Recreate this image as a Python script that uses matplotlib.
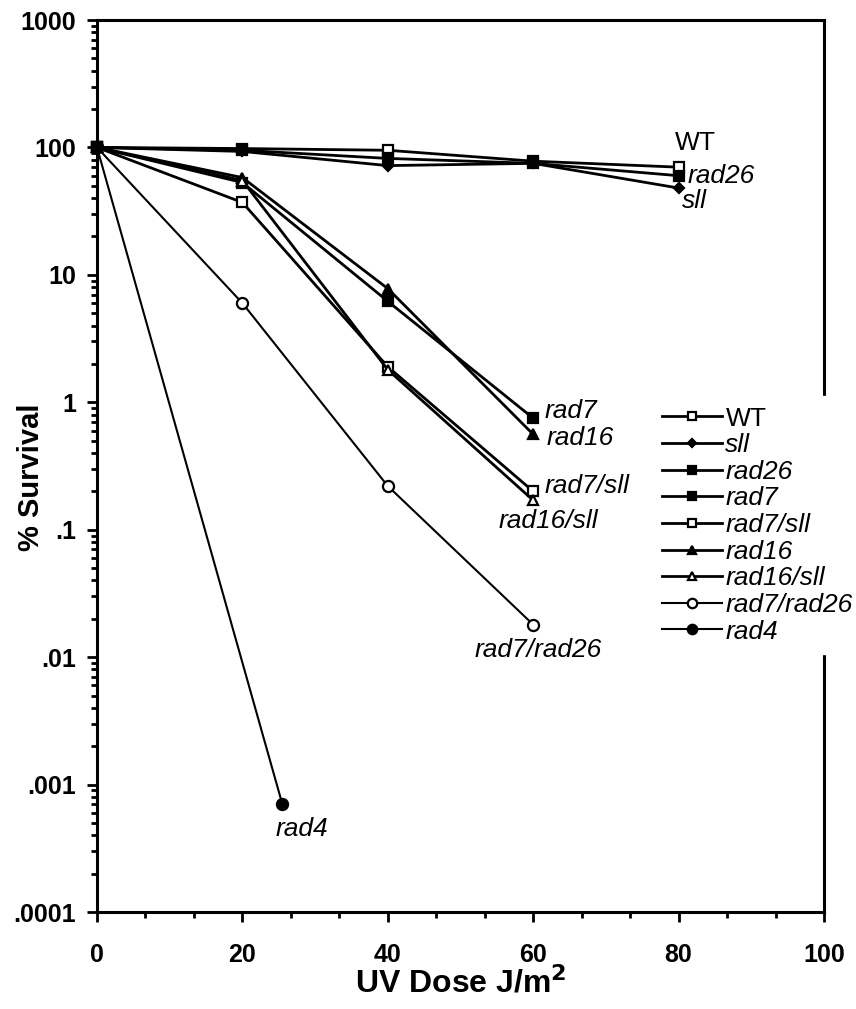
import matplotlib
matplotlib.use("Agg")
from matplotlib import pyplot as plt
from matplotlib.ticker import FixedLocator, MultipleLocator, LogLocator, NullFormatter

plt.rcParams['font.family'] = ['Liberation Sans', 'DejaVu Sans']

# UV dose (J/m2) and % survival for each strain
dose = [0, 20, 40, 60, 80]
dose_short = [0, 20, 40, 60]
dose_rad4 = [0, 25.5]

wt = [100, 98, 95, 78, 70]
sll = [100, 93, 72, 75, 48]
rad26 = [100, 95, 82, 75, 60]
rad7 = [100, 53, 6.2, 0.75]
rad7_sll = [100, 37, 1.9, 0.2]
rad16 = [100, 58, 7.8, 0.56]
rad16_sll = [100, 55, 1.8, 0.17]
rad7_rad26 = [100, 6.0, 0.22, 0.018]
rad4 = [100, 0.0007]

ytick_vals = [1e-4, 1e-3, 1e-2, 1e-1, 1, 10, 100, 1000]
ytick_text = ['.0001', '.001', '.01', '.1', '1', '10', '100', '1000']
xtick_vals = [0, 20, 40, 60, 80, 100]

fig = plt.figure(figsize=(8.56, 10.09), dpi=100)
ax = fig.add_axes([97 / 856, 1 - 912 / 1009, 727 / 856, 892 / 1009])

lw = 2.0
ms = 7
series = [
    (dose, wt, 's', 'white', lw, ms, 'WT', 'normal'),
    (dose, sll, 'D', 'black', lw, 5, 'sll', 'italic'),
    (dose, rad26, 's', 'black', lw, ms, 'rad26', 'italic'),
    (dose_short, rad7, 's', 'black', lw, ms, 'rad7', 'italic'),
    (dose_short, rad7_sll, 's', 'white', lw, ms, 'rad7/sll', 'italic'),
    (dose_short, rad16, '^', 'black', lw, ms, 'rad16', 'italic'),
    (dose_short, rad16_sll, '^', 'white', lw, ms, 'rad16/sll', 'italic'),
    (dose_short, rad7_rad26, 'o', 'white', 1.5, 8, 'rad7/rad26', 'italic'),
    (dose_rad4, rad4, 'o', 'black', 1.5, 8, 'rad4', 'italic'),
]

handles = []
for x, y, mk, fc, w, size, name, style in series:
    h, = ax.plot(x, y, color='black', lw=w, marker=mk, markersize=size,
                 markerfacecolor=fc, markeredgecolor='black',
                 markeredgewidth=1.6, label=name, clip_on=False)
    handles.append(h)

ax.set_yscale('log')
ax.set_ylim(1e-4, 1000)
ax.set_xlim(0, 100)

ax.yaxis.set_major_locator(FixedLocator(ytick_vals))
ax.set_yticklabels(ytick_text)
ax.yaxis.set_minor_locator(LogLocator(base=10, subs=range(2, 10)))
ax.yaxis.set_minor_formatter(NullFormatter())
ax.set_xticks(xtick_vals)
ax.xaxis.set_minor_locator(MultipleLocator(20 / 3))

ax.tick_params(which='both', direction='out', width=2.0, top=False, right=False)
ax.tick_params(which='major', length=7)
ax.tick_params(which='minor', length=4.5)
ax.tick_params(axis='y', which='major', pad=8)
ax.tick_params(axis='x', which='major', pad=15)
for lab in ax.get_xticklabels() + ax.get_yticklabels():
    lab.set_fontsize(18)
    lab.set_fontweight('bold')

for s in ax.spines.values():
    s.set_linewidth(2.2)

ax.set_xlabel('UV Dose J/m$^\\mathbf{2}$', fontsize=23, fontweight='bold', labelpad=0)
ax.set_ylabel('% Survival', fontsize=21, fontweight='bold')
ax.yaxis.set_label_coords(-0.072, 0.487)

# curve labels
tfs = 19
ax.text(79.5, 108, 'WT', fontsize=tfs, va='center', ha='left')
ax.text(81.2, 60, 'rad26', fontsize=tfs, style='italic', va='center', ha='left')
ax.text(80.5, 38, 'sll', fontsize=tfs, style='italic', va='center', ha='left')
ax.text(61.6, 0.86, 'rad7', fontsize=tfs, style='italic', va='center', ha='left')
ax.text(61.8, 0.52, 'rad16', fontsize=tfs, style='italic', va='center', ha='left')
ax.text(61.6, 0.22, 'rad7/sll', fontsize=tfs, style='italic', va='center', ha='left')
ax.text(55.3, 0.118, 'rad16/sll', fontsize=tfs, style='italic', va='center', ha='left')
ax.text(52.0, 0.0113, 'rad7/rad26', fontsize=tfs, style='italic', va='center', ha='left')
ax.text(24.6, 0.00045, 'rad4', fontsize=tfs, style='italic', va='center', ha='left')

leg = ax.legend(handles=handles, loc='upper left',
                bbox_to_anchor=(651 / 856, 1 - 396 / 1009),
                bbox_transform=fig.transFigure,
                fontsize=19, frameon=True, fancybox=False,
                facecolor='white', edgecolor='white', framealpha=1,
                handlelength=2.3, handletextpad=0.12, labelspacing=0.1,
                borderpad=0.4, borderaxespad=0, markerscale=0.85)
for t, s in zip(leg.get_texts(), series):
    t.set_style(s[7])

fig.savefig('out.png', dpi=100)
